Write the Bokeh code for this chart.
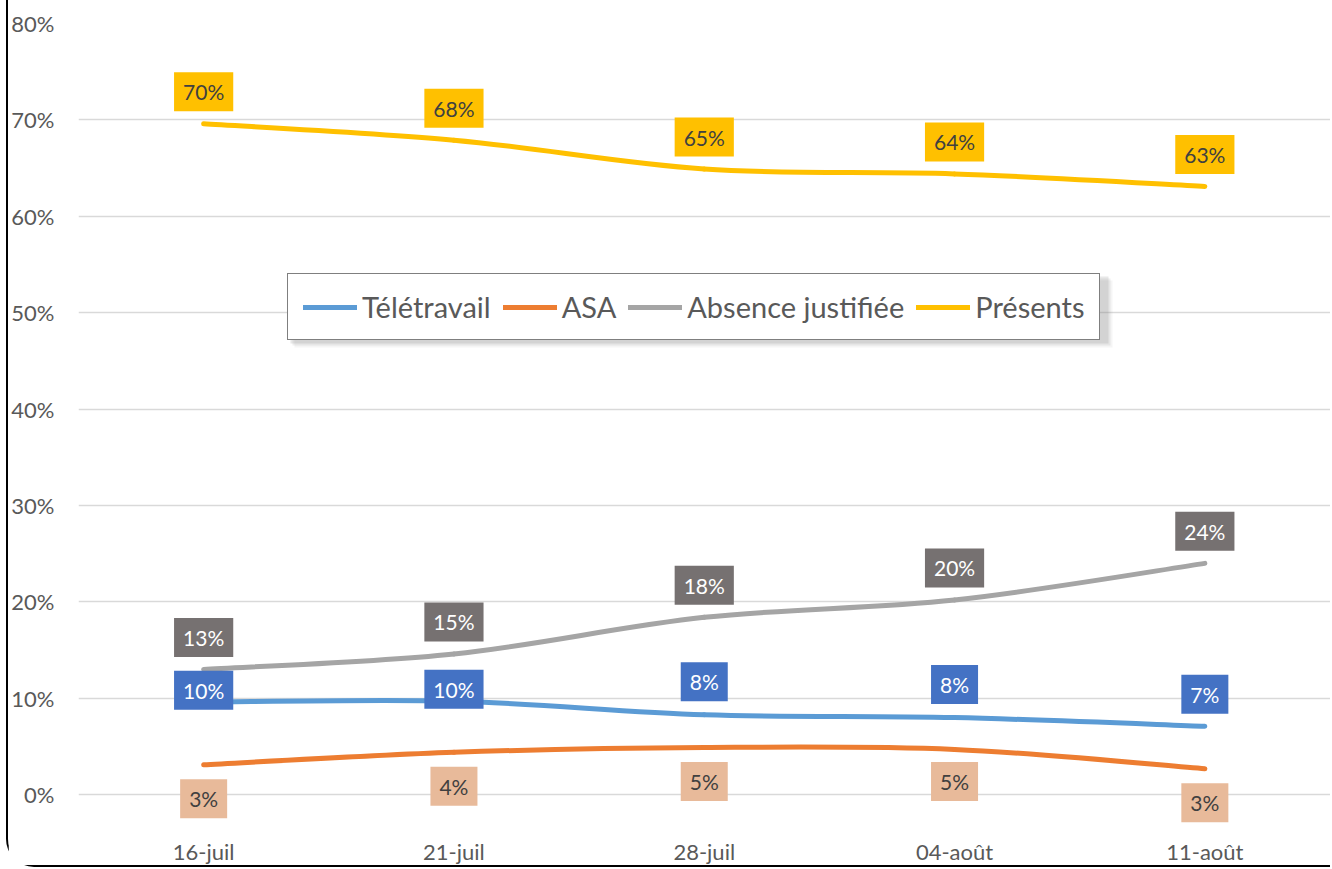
from bokeh.plotting import figure
from bokeh.models import (Range1d, FixedTicker, NumeralTickFormatter, Legend,
                          LegendItem, ColumnDataSource, BoxAnnotation)
from bokeh.core.properties import value
from bokeh.embed import file_html
from bokeh.resources import INLINE

# ---------------- data ----------------
categories = ["16-juil", "21-juil", "28-juil", "04-août", "11-août"]
teletravail = [0.096, 0.097, 0.083, 0.080, 0.071]
asa = [0.031, 0.044, 0.049, 0.047, 0.027]
absence = [0.130, 0.146, 0.184, 0.202, 0.240]
presents = [0.696, 0.679, 0.649, 0.644, 0.631]
y_ticks = [0.0, 0.1, 0.2, 0.3, 0.4, 0.5, 0.6, 0.7, 0.8]

# ---------------- style ----------------
FONT = "Lato"
series = [
    # name, values, line colour, label bg, label text colour, label offsets (px, down +)
    ("Télétravail", teletravail, "#5B9BD5", "#4472C4", "#FFFFFF", [-12, -12, -33, -33, -32]),
    ("ASA", asa, "#ED7D31", "#E8BA9A", "#404040", [34, 34, 34, 32, 34]),
    ("Absence justifiée", absence, "#A5A5A5", "#767171", "#FFFFFF", [-32, -32, -32, -32, -32]),
    ("Présents", presents, "#FFC000", "#FFC000", "#404040", [-32, -32, -32, -32, -32]),
]

p = figure(width=1324, height=867, output_backend="svg", toolbar_location=None,
           x_range=Range1d(-0.5, 4.51), y_range=Range1d(-0.0423, 0.8),
           min_border_left=68, min_border_right=0, min_border_top=23,
           min_border_bottom=29)
p.outline_line_color = None
p.background_fill_color = "white"
p.border_fill_color = "white"
p.styles = {"border-left": "2px solid black", "border-bottom": "2px solid black",
            "border-bottom-left-radius": "28px", "margin-left": "6px"}

xs = list(range(len(categories)))

# axes
p.xaxis.ticker = FixedTicker(ticks=xs)
p.xaxis.major_label_overrides = {i: c for i, c in enumerate(categories)}
p.yaxis.ticker = FixedTicker(ticks=y_ticks)
p.yaxis.formatter = NumeralTickFormatter(format="0%")
for ax in (p.xaxis[0], p.yaxis[0]):
    ax.axis_line_color = None
    ax.major_tick_line_color = None
    ax.minor_tick_line_color = None
    ax.major_tick_out = 0
    ax.major_tick_in = 0
    ax.major_label_text_font = FONT
    ax.major_label_text_font_size = "22px"
    ax.major_label_text_color = "#595959"
p.xaxis.major_label_standoff = 2
p.yaxis.major_label_standoff = 24
p.xgrid.grid_line_color = None
p.ygrid.grid_line_color = "#D9D9D9"
p.ygrid.grid_line_width = 1.5


def smooth_segments(vals):
    n = len(vals)
    pts = [(float(i), v) for i, v in enumerate(vals)]
    seg = dict(x0=[], y0=[], x1=[], y1=[], cx0=[], cy0=[], cx1=[], cy1=[])
    t = 1.0 / 6.0
    for i in range(n - 1):
        p0 = pts[max(i - 1, 0)]
        p1 = pts[i]
        p2 = pts[i + 1]
        p3 = pts[min(i + 2, n - 1)]
        seg["x0"].append(p1[0]); seg["y0"].append(p1[1])
        seg["x1"].append(p2[0]); seg["y1"].append(p2[1])
        seg["cx0"].append(p1[0] + (p2[0] - p0[0]) * t)
        seg["cy0"].append(p1[1] + (p2[1] - p0[1]) * t)
        seg["cx1"].append(p2[0] - (p3[0] - p1[0]) * t)
        seg["cy1"].append(p2[1] - (p3[1] - p1[1]) * t)
    return ColumnDataSource(seg)


items = []
for name, vals, lc, bg, tc, offs in series:
    r = p.bezier(x0="x0", y0="y0", x1="x1", y1="y1", cx0="cx0", cy0="cy0",
                 cx1="cx1", cy1="cy1", source=smooth_segments(vals),
                 line_color=lc, line_width=5, line_cap="round")
    items.append(LegendItem(label=name, renderers=[r]))

for name, vals, lc, bg, tc, offs in series:
    src = ColumnDataSource(dict(x=xs, y=vals,
                                t=[f"{round(v * 100)}%" for v in vals],
                                off=offs))
    p.text(x="x", y="y", text="t", source=src, y_offset="off",
           text_align="center", text_baseline="middle",
           text_font=value(FONT), text_font_size="21px", text_color=tc,
           background_fill_color=bg,
           padding=dict(left=9, right=9, top=7, bottom=7))

# soft legend shadow (screen units, relative to the frame)
for d, a in ((7, 0.08), (5, 0.12), (3, 0.18)):
    p.add_layout(BoxAnnotation(left=209 + d, right=1027 + d,
                               bottom=495 - d, top=562 - d,
                               left_units="screen", right_units="screen",
                               top_units="screen", bottom_units="screen",
                               fill_color="#7F7F7F", fill_alpha=a,
                               line_color=None))

legend = Legend(items=items, orientation="horizontal", location=(209, 495))
legend.label_text_font = FONT
legend.label_text_font_size = "29px"
legend.label_text_color = "#595959"
legend.glyph_width = 54
legend.label_standoff = 5
legend.spacing = 12
legend.padding = 15
legend.margin = 0
legend.border_line_color = "black"
legend.border_line_width = 1.5
legend.background_fill_color = "white"
legend.background_fill_alpha = 1.0
p.add_layout(legend, "center")

open("out.html", "w").write(file_html(p, INLINE))
